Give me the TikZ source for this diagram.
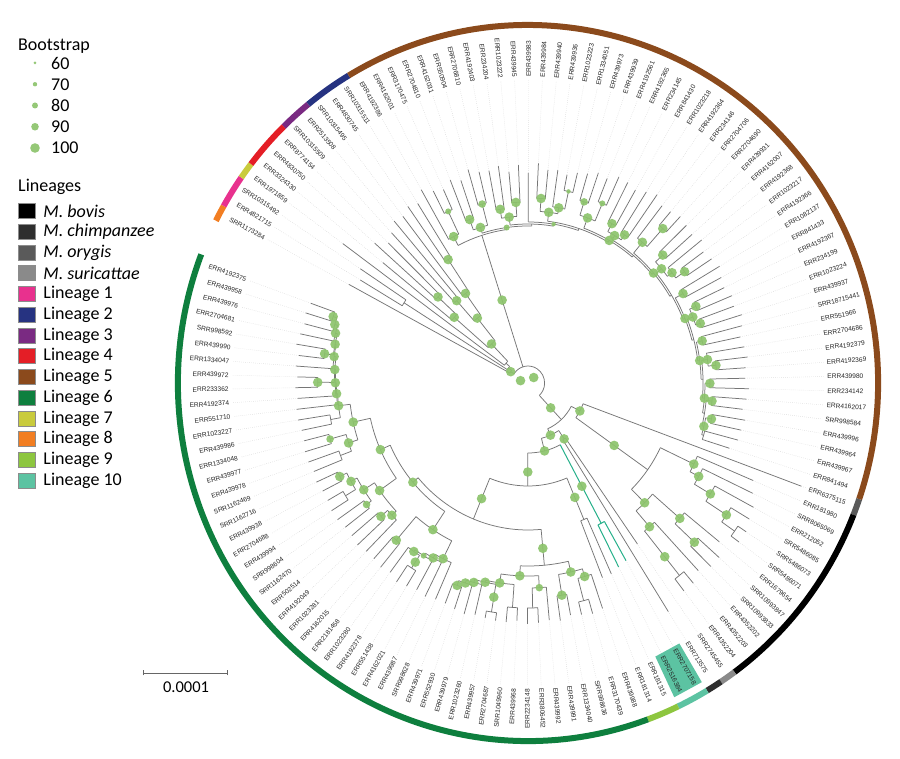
\documentclass[tikz,border=0pt]{standalone}
\usepackage{fontspec}
\setmainfont{Carlito}
\newfontfamily\labfont{Liberation Sans}
\pgfdeclarelayer{fg}
\pgfsetlayers{main,fg}
\definecolor{cL1}{RGB}{232,49,142}
\definecolor{cL2}{RGB}{38,51,129}
\definecolor{cL3}{RGB}{122,42,130}
\definecolor{cL4}{RGB}{228,30,38}
\definecolor{cL5}{RGB}{139,74,28}
\definecolor{cL6}{RGB}{14,127,62}
\definecolor{cL7}{RGB}{201,203,61}
\definecolor{cL8}{RGB}{242,126,34}
\definecolor{cL9}{RGB}{141,198,63}
\definecolor{cL10}{RGB}{92,195,162}
\definecolor{cChi}{RGB}{46,46,46}
\definecolor{cOry}{RGB}{90,90,90}
\definecolor{cSur}{RGB}{138,138,138}
\definecolor{bsg}{RGB}{141,196,108}
\definecolor{brc}{RGB}{118,118,118}
\definecolor{tlc}{RGB}{38,176,138}
\tikzset{
 br/.style={draw=brc, line width=0.75pt},
 tl/.style={draw=tlc, line width=1pt},
 lead/.style={draw=black!20, line width=0.4pt, dash pattern=on 0.5pt off 1.5pt},
 bsc/.style={fill=bsg, fill opacity=0.92},
 lab/.style={font=\labfont\fontsize{6.6}{7}\selectfont, inner sep=0pt, text=black!85},
 ring/.style={line width=6pt},
 leg/.style={font=\fontsize{18}{21}\selectfont, inner sep=0pt},
 sq/.style={draw=black!45, line width=0.5pt},
}
\newcommand\tBR[3]{\draw[br] ({A(#1)}:#2) -- ({A(#1)}:#3);}
\newcommand\tAR[3]{\pgfmathsetmacro\tsa{A(#2)}\pgfmathsetmacro\tea{A(#3)}\draw[br] (\tsa:#1) arc[start angle=\tsa, end angle=\tea, radius=#1];}
\newcommand\tND[5]{\tBR{#1}{#3}{#2}\tAR{#2}{#4}{#5}}
\newcommand\tLF[3]{\tBR{#1}{#2}{#3}\draw[lead] ({A(#1)}:#3) -- ({A(#1)}:303);}
\newcommand\tCH[7]{\tND{#1}{#2}{#3}{#4}{#5}\tLF{#4}{#2}{#6}\tLF{#5}{#2}{#7}}
\newcommand\tBS[3]{\begin{pgfonlayer}{fg}\fill[bsc] ({A(#1)}:#2) circle[radius=#3pt];\end{pgfonlayer}}
\newcommand\tRG[3]{\pgfmathsetmacro\tsa{A(#1-0.5)}\pgfmathsetmacro\tea{A(#2+0.5)}\draw[ring,draw=#3] (\tsa:358) arc[start angle=\tsa, end angle=\tea, radius=358];}
\def\bA{4.8}\def\bB{3.8}\def\bC{3.0}\def\bD{2.2}\def\bE{1.5}
\begin{document}
\begin{tikzpicture}[x=1pt,y=1pt,
 declare function={A(\i)=(\i<=91)*(151.7-(\i-1)*2.687)+(\i>91)*(-90.13-(\i-91)*2.61);}]
\fill[white] (-528,-376) rectangle (372,383);
\useasboundingbox (-528,-376) rectangle (372,383);

\begin{scope}[x=0.978pt]
% ---------- root ----------
\tAR{17}{2.6}{74.95}
\tBS{-3.2}{8}{\bA}\tBS{41.45}{8}{\bA}
% ---------- L1-4, L7, L8 ----------
\tND{2.6}{21}{17}{1}{4.2}\tBS{2.6}{21}{\bA}
\tLF{1}{21}{208}
\tND{4.2}{25}{21}{2.5}{5.85}
\tND{2.5}{150}{25}{2}{3}
\tLF{2}{150}{200}\tLF{3}{150}{206}
\tND{5.85}{30}{25}{4}{7.7}
\tLF{4}{30}{235}
\tND{7.7}{54}{30}{5.75}{9.6}\tBS{7.7}{54}{\bA}
\tND{5.75}{100}{54}{5}{6.5}\tBS{5.75}{100}{\bA}
\tLF{5}{100}{191}
\tCH{6.5}{126}{100}{6}{7}{210}{200}\tBS{6.5}{126}{\bA}
\tND{9.6}{83}{54}{8.5}{10.75}\tBS{9.6}{83}{\bA}
\tCH{8.5}{110}{83}{8}{9}{205}{212}\tBS{8.5}{110}{\bA}
\tND{10.75}{110}{83}{10}{11.5}\tBS{10.75}{110}{\bA}
\tLF{10}{110}{210}
\tCH{11.5}{148}{110}{11}{12}{215}{212}\tBS{11.5}{148}{\bA}
% ---------- L5 ----------
\tBR{17.37}{17}{155}\tBS{17.37}{87}{\bA}
\tAR{155}{13.75}{20.99}
\tND{20.99}{157}{155}{17.5}{24.48}\tBS{20.99}{157}{\bC}
\tND{24.48}{159}{157}{21.5}{27.45}
\tND{27.45}{161}{159}{24}{30.9}\tBS{27.45}{161}{\bD}
\tND{30.9}{163}{161}{26.6}{35.21}
\tND{35.21}{165}{163}{31.5}{38.93}\tBS{35.21}{165}{\bA}
\tND{38.93}{167}{165}{35.5}{42.35}
\tND{42.35}{169}{167}{38.75}{45.96}\tBS{42.35}{169}{\bA}
\tND{45.96}{171}{169}{42.6}{49.31}
\tND{49.31}{173}{171}{46.5}{52.125}\tBS{49.31}{173}{\bA}
\tND{52.125}{175}{173}{49.5}{54.75}
\tND{54.75}{177}{175}{52.5}{57}\tBS{54.75}{177}{\bA}
\tND{57}{179}{177}{54.75}{59.25}
\tND{59.25}{181}{179}{57.5}{61}\tBS{59.25}{181}{\bA}
\tND{61}{183}{181}{59.5}{62.5}
\tND{62.5}{185}{183}{61.5}{63.5}\tBS{62.5}{185}{\bA}
\tND{63.5}{187}{185}{63}{64}
\tND{13.75}{165}{155}{13}{14.5}\tBS{13.75}{165}{\bA}
\tLF{13}{165}{222}
\tCH{14.5}{190}{165}{14}{15}{215}{212}\tBS{14.5}{190}{\bC}
\tND{17.5}{163}{157}{16.5}{18.5}\tBS{17.5}{163}{\bA}
\tCH{16.5}{174}{163}{16}{17}{218}{214}\tBS{16.5}{174}{\bA}
\tCH{18.5}{185}{163}{18}{19}{222}{217}\tBS{18.5}{185}{\bB}
\tND{21.5}{167}{159}{20.5}{22.5}\tBS{21.5}{167}{\bA}
\tCH{20.5}{176}{167}{20}{21}{216}{219}\tBS{20.5}{176}{\bA}
\tCH{22.5}{181}{167}{22}{23}{212}{218}\tBS{22.5}{181}{\bA}
\tLF{24}{161}{210}
\tND{26.6}{172}{163}{25.5}{27.75}\tBS{26.6}{172}{\bA}
\tCH{25.5}{185}{172}{25}{26}{220}{214}\tBS{25.5}{185}{\bA}
\tND{27.75}{178}{172}{27}{28.5}\tBS{27.75}{178}{\bA}
\tLF{27}{178}{215}
\tCH{28.5}{196}{178}{28}{29}{212}{216}\tBS{28.5}{196}{\bD}
\tND{31.5}{176}{165}{30.5}{32.5}\tBS{31.5}{176}{\bA}
\tCH{30.5}{190}{176}{30}{31}{218}{222}\tBS{30.5}{190}{\bB}
\tCH{32.5}{195}{176}{32}{33}{220}{226}\tBS{32.5}{195}{\bC}
\tND{35.5}{172}{167}{34.5}{36.5}\tBS{35.5}{172}{\bA}
\tCH{34.5}{181}{172}{34}{35}{225}{222}\tBS{34.5}{181}{\bA}
\tCH{36.5}{178}{172}{36}{37}{226}{230}\tBS{36.5}{178}{\bA}
\tND{38.75}{183}{169}{38}{39.5}\tBS{38.75}{183}{\bA}
\tLF{38}{183}{224}
\tCH{39.5}{207}{183}{39}{40}{225}{228}\tBS{39.5}{207}{\bA}
\tND{42.6}{178}{171}{41.5}{43.75}\tBS{42.6}{178}{\bA}
\tCH{41.5}{188}{178}{41}{42}{226}{224}\tBS{41.5}{188}{\bA}
\tND{43.75}{184}{178}{43}{44.5}\tBS{43.75}{184}{\bA}
\tLF{43}{184}{228}
\tCH{44.5}{195}{184}{44}{45}{222}{225}\tBS{44.5}{195}{\bA}
\tCH{46.5}{182}{173}{46}{47}{228}{224}\tBS{46.5}{182}{\bA}
\tND{49.5}{181}{175}{48.5}{50.5}\tBS{49.5}{181}{\bA}
\tCH{48.5}{188}{181}{48}{49}{222}{226}\tBS{48.5}{188}{\bA}
\tCH{50.5}{186}{181}{50}{51}{224}{229}\tBS{50.5}{186}{\bA}
\tCH{52.5}{183}{177}{52}{53}{226}{222}\tBS{52.5}{183}{\bA}
\tND{54.75}{185}{179}{54}{55.5}\tBS{54.75}{185}{\bA}
\tLF{54}{185}{224}
\tCH{55.5}{193}{185}{55}{56}{226}{223}\tBS{55.5}{193}{\bA}
\tCH{57.5}{186}{181}{57}{58}{222}{226}\tBS{57.5}{186}{\bA}
\tCH{59.5}{189}{183}{59}{60}{224}{221}\tBS{59.5}{189}{\bA}
\tCH{61.5}{191}{185}{61}{62}{225}{223}\tBS{61.5}{191}{\bA}
\tLF{63}{187}{222}
\tLF{64}{187}{216}
% ---------- animal, L9, L10, L6 ----------
\tBR{74.95}{17}{50}\tBS{74.95}{34}{\bA}
\tAR{50}{67.8}{82.1}
\tND{67.8}{60}{50}{65}{70.6}\tBS{67.8}{60}{\bA}
\tLF{65}{60}{298}
\tND{70.6}{150}{60}{66.97}{74.25}\tBS{70.6}{108}{\bA}
\tND{66.97}{188}{150}{66}{67.94}\tBS{66.97}{188}{\bA}
\tLF{66}{188}{250}
\tND{67.94}{198}{188}{67}{68.9}\tBS{67.94}{198}{\bA}
\tLF{67}{198}{255}
\tND{68.9}{217}{198}{68}{69.75}\tBS{68.9}{217}{\bA}
\tLF{68}{217}{262}
\tND{69.75}{242}{217}{69}{70.5}\tBS{69.75}{242}{\bA}
\tLF{69}{242}{264}
\tCH{70.5}{258}{242}{70}{71}{268}{268}
\tND{74.25}{169}{150}{72.75}{75.75}\tBS{74.25}{169}{\bA}
\tND{72.75}{206}{169}{72}{73.5}\tBS{72.75}{206}{\bA}
\tLF{72}{206}{252}
\tCH{73.5}{233}{206}{73}{74}{262}{262}\tBS{73.5}{233}{\bA}
\tND{75.75}{190}{169}{75}{76.5}\tBS{75.75}{190}{\bA}
\tLF{75}{190}{256}
\tCH{76.5}{247}{190}{76}{77}{262}{262}\tBS{76.5}{223}{\bA}
\tND{82.1}{57}{50}{78.5}{85.75}\tBS{82.1}{57}{\bA}
\tND{78.5}{67}{57}{78}{79}\tBS{78.5}{67}{\bA}
\tLF{78}{67}{196}\tLF{79}{67}{270}
\tND{85.75}{70}{57}{80.5}{91.0}\tBS{85.75}{70}{\bA}
% L10 (teal)
\draw[tl] ({A(80.5)}:70) -- ({A(80.5)}:159);
\pgfmathsetmacro\tsa{A(80)}\pgfmathsetmacro\tea{A(81)}
\draw[tl] (\tsa:159) arc[start angle=\tsa, end angle=\tea, radius=159];
\draw[tl] ({A(80)}:159) -- ({A(80)}:204);
\draw[tl] ({A(81)}:159) -- ({A(81)}:206);
\draw[lead] ({A(80)}:204) -- ({A(80)}:303);
\draw[lead] ({A(81)}:206) -- ({A(81)}:303);
\tBS{80.5}{117}{\bA}
% L9 + L6
\tND{91.0}{103}{70}{82.5}{99.5}\tBS{91.0}{89}{\bA}
\tCH{82.5}{148}{103}{82}{83}{209}{209}\tBS{82.5}{124}{\bA}
\tND{99.5}{147}{103}{89.0}{110.05}\tBS{99.5}{125}{\bA}
\tND{89.0}{183}{147}{86.1}{91.9}\tBS{89.0}{166}{\bA}
\tND{86.1}{194}{183}{84.75}{87.5}\tBS{86.1}{194}{\bA}
\tND{84.75}{202}{194}{84}{85.5}\tBS{84.75}{202}{\bA}
\tLF{84}{202}{238}
\tCH{85.5}{225}{202}{85}{86}{240}{238}
\tCH{87.5}{215}{194}{87}{88}{236}{240}\tBS{87.5}{215}{\bA}
\tND{91.9}{193}{183}{89.75}{94.1}\tBS{91.9}{193}{\bA}
\tND{89.75}{205}{193}{89}{90.5}\tBS{89.75}{205}{\bB}
\tLF{89}{205}{238}
\tCH{90.5}{225}{205}{90}{91}{240}{241}
\tND{94.1}{202}{193}{92.5}{95.7}\tBS{94.1}{202}{\bA}
\tCH{92.5}{225}{202}{92}{93}{238}{240}
\tND{95.7}{204}{202}{94.5}{96.9}\tBS{95.7}{204}{\bA}
\tCH{94.5}{232}{204}{94}{95}{240}{239}\tBS{94.5}{217}{\bA}
\tND{96.9}{207}{204}{96}{97.75}\tBS{96.9}{207}{\bA}
\tLF{96}{207}{238}
\tND{97.75}{210}{207}{97}{98.5}\tBS{97.75}{210}{\bA}
\tLF{97}{210}{240}
\tCH{98.5}{215}{210}{98}{99}{238}{236}\tBS{98.5}{215}{\bA}
\tND{110.05}{154}{147}{103.8}{116.3}\tBS{110.05}{154}{\bA}
\tND{103.8}{176}{154}{101.03}{106.5}\tBS{103.8}{176}{\bA}
\tND{101.03}{196}{176}{100}{102.06}\tBS{101.03}{196}{\bA}
\tLF{100}{196}{236}
\tND{102.06}{200}{196}{101}{103.1}\tBS{102.06}{200}{\bA}
\tLF{101}{200}{238}
\tND{103.1}{203}{200}{102}{104.25}\tBS{103.1}{203}{\bC}
\tLF{102}{203}{236}
\tND{104.25}{205}{203}{103.5}{105}\tBS{104.25}{205}{\bA}
\tCH{103.5}{220}{205}{103}{104}{238}{240}\tBS{103.5}{213}{\bA}
\tLF{105}{205}{236}
\tCH{106.5}{207}{176}{106}{107}{238}{236}\tBS{106.5}{207}{\bA}
\tND{116.3}{165}{154}{111.9}{120.7}\tBS{116.3}{165}{\bA}
\tND{111.9}{186}{165}{108.75}{113}\tBS{111.9}{186}{\bA}
\tND{108.75}{192}{186}{108}{109.5}\tBS{108.75}{192}{\bA}
\tLF{108}{192}{236}
\tCH{109.5}{201}{192}{109}{110}{238}{236}\tBS{109.5}{201}{\bA}
\tND{113}{199}{186}{111.5}{114.5}\tBS{113}{199}{\bA}
\tCH{111.5}{205}{199}{111}{112}{236}{238}\tBS{111.5}{205}{\bB}
\tND{114.5}{206}{199}{113.5}{115.5}\tBS{114.5}{206}{\bA}
\tCH{113.5}{218}{206}{113}{114}{238}{236}
\tCH{115.5}{214}{206}{115}{116}{236}{238}\tBS{115.5}{214}{\bA}
\tND{120.7}{183}{165}{118.5}{122.87}\tBS{120.7}{183}{\bA}
\tND{118.5}{193}{183}{117.5}{119.5}\tBS{118.5}{193}{\bA}
\tCH{117.5}{205}{193}{117}{118}{236}{238}
\tCH{119.5}{210}{193}{119}{120}{238}{236}\tBS{119.5}{210}{\bB}
\tND{122.87}{195}{183}{121.5}{124.23}\tBS{122.87}{195}{\bA}
\tCH{121.5}{205}{195}{121}{122}{236}{238}
\tND{124.23}{196}{195}{123}{125.46}\tBS{124.23}{196}{\bA}
\tLF{123}{196}{238}
\tND{125.46}{197}{196}{124}{126.92}\tBS{125.46}{197}{\bA}
\tLF{124}{197}{236}
\tND{126.92}{198}{197}{125.5}{128.34}\tBS{126.92}{198}{\bA}
\tCH{125.5}{215}{198}{125}{126}{238}{236}\tBS{125.5}{215}{\bA}
\tND{128.34}{200}{198}{127}{129.69}\tBS{128.34}{200}{\bA}
\tLF{127}{200}{238}
\tND{129.69}{201}{200}{128.5}{130.875}\tBS{129.69}{201}{\bA}
\tCH{128.5}{210}{201}{128}{129}{236}{240}\tBS{128.5}{210}{\bA}
\tND{130.875}{203}{201}{130}{131.75}\tBS{130.875}{203}{\bA}
\tLF{130}{203}{238}
\tND{131.75}{206}{203}{131}{132.5}\tBS{131.75}{206}{\bA}
\tLF{131}{206}{236}
\tCH{132.5}{210}{206}{132}{133}{238}{236}\tBS{132.5}{210}{\bA}

% ---------- coloured ring ----------
\tRG{1}{1}{cL8}\tRG{2}{3}{cL1}\tRG{4}{4}{cL7}\tRG{5}{7}{cL4}\tRG{8}{9}{cL3}
\tRG{10}{12}{cL2}\tRG{13}{64}{cL5}\tRG{65}{65}{cOry}\tRG{66}{77}{black}
\tRG{78}{78}{cSur}\tRG{79}{79}{cChi}\tRG{80}{81}{cL10}\tRG{82}{83}{cL9}\tRG{84}{133}{cL6}

% ---------- highlight ----------
\fill[cL10] ({A(79.52)}:303) -- ({A(79.52)}:348) -- ({A(81.48)}:348) -- ({A(81.48)}:303) -- cycle;

% ---------- leaf labels ----------
\foreach \i/\lb in {1/SRR1173284,2/ERR4821715,3/SRR10315492,4/ERR1971859,5/ERR3324330,6/ERR4830750,7/ERR8774154,8/SRR10315509,9/ERR2513508,10/SRR10315495,11/ERR4830745,12/SRR10315511,13/ERR4192386,14/ERR4162001,15/ERR3170475,16/ERR2704810,17/ERR4162031,18/ERR550904,19/ERR2706810,20/ERR4192403,21/ERR234204,22/ERR1023222,23/ERR439945,24/ERR439983,25/ERR439984,26/ERR439940,27/ERR439936,28/ERR1023223,29/ERR1334051,30/ERR439973,31/ERR439939,32/ERR4192561,33/ERR4192365,34/ERR234145,35/ERR841430,36/ERR1023218,37/ERR4192364,38/ERR234146,39/ERR2704706,40/ERR2704690,41/ERR439931,42/ERR4162007,43/ERR4192368,44/ERR1023217,45/ERR4192366,46/ERR1082137,47/ERR841433,48/ERR4192367,49/ERR234199,50/ERR1023224,51/ERR439937,52/SRR18715441,53/ERR551966,54/ERR2704686,55/ERR4192379,56/ERR4192369,57/ERR439980,58/ERR234142,59/ERR4162017,60/SRR998584,61/ERR439996,62/ERR439964,63/ERR439967,64/ERR841494,65/ERR6375115,66/ERR181980,67/SRR8065069,68/ERR212052,69/SRR5486085,70/SRR5486073,71/SRR5486071,72/ERR1679654,73/SRR10993847,74/SRR10993833,75/ERR4352202,76/ERR4352203,77/ERR4352204,78/SRR2745455,79/ERR713575,80/ERR2707158,81/ERR2516384,82/ERR181315,83/ERR181314,84/ERR439988,85/ERR3170439,86/SRR998636,87/ERR1334040,88/ERR439991,89/ERR439992,90/ERR3806452,91/ERR2234148,92/ERR439968,93/SRR1049960,94/ERR2704687,95/ERR439957,96/ERR1023260,97/ERR439979,98/ERR552930,99/ERR439971,100/SRR998628,101/ERR439987,102/ERR4162021,103/ERR551438,104/ERR4192378,105/ERR1023280,106/ERR2181458,107/ERR4162015,108/ERR1023281,109/ERR4192049,110/ERR502514,111/SRR1162470,112/SRR998604,113/ERR439994,114/ERR2704688,115/ERR439938,116/SRR1162716,117/SRR1162469,118/ERR439978,119/ERR439977,120/ERR1334048,121/ERR439986,122/ERR1023227,123/ERR551710,124/ERR4192374,125/ERR233362,126/ERR439972,127/ERR1334047,128/ERR439990,129/SRR998592,130/ERR2704681,131/ERR439976,132/ERR439958,133/ERR4192375}{
  \pgfmathsetmacro\la{A(\i)}
  \pgfmathtruncatemacro\lft{(\la>90 || \la<-90) ? 1 : 0}
  \ifnum\lft=1
    \node[lab,anchor=east,rotate=\la+180] (leaf\i) at (\la:306) {\lb};
  \else
    \node[lab,anchor=west,rotate=\la] (leaf\i) at (\la:306) {\lb};
  \fi
}
\end{scope}

% ---------- legend ----------
\node[leg,anchor=base west] (bt) at (-510,332) {Bootstrap};
\foreach \k/\v/\rr in {0/60/1.5,1/70/2.2,2/80/3.0,3/90/3.8,4/100/4.8}{
  \pgfmathsetmacro\yy{320-21.25*\k}
  \fill[bsc] (-493,\yy) circle[radius=\rr pt];
  \node[leg,anchor=west] (bv\k) at (-477,\yy) {\v};
}
\node[leg,anchor=base west] (lt) at (-510,191) {Lineages};
\foreach \k/\cc/\nm in {0/black/{\textit{M. bovis}},1/cChi/{\textit{M. chimpanzee}},2/cOry/{\textit{M. orygis}},3/cSur/{\textit{M. suricattae}},4/cL1/{Lineage 1},5/cL2/{Lineage 2},6/cL3/{Lineage 3},7/cL4/{Lineage 4},8/cL5/{Lineage 5},9/cL6/{Lineage 6},10/cL7/{Lineage 7},11/cL8/{Lineage 8},12/cL9/{Lineage 9},13/cL10/{Lineage 10}}{
  \pgfmathsetmacro\yy{172-20.75*\k}
  \fill[\cc] (-510,\yy-7.5) rectangle (-492.3,\yy+7.5);
  \draw[sq] (-510,\yy-7.5) rectangle (-492.3,\yy+7.5);
  \node[leg,anchor=west] (lg\k) at (-484.7,\yy) {\nm};
}
% ---------- scale bar ----------
\coordinate (sb1) at (-385,-290);
\coordinate (sb2) at (-301,-290);
\draw[black!60,line width=0.8pt] (sb1) -- (sb2);
\draw[black!60,line width=0.8pt] ([yshift=-2.5pt]sb1) -- ([yshift=2.5pt]sb1);
\draw[black!60,line width=0.8pt] ([yshift=-2.5pt]sb2) -- ([yshift=2.5pt]sb2);
\node[leg,font=\fontsize{16.5}{19}\selectfont] (sbt) at (-342,-304) {0.0001};
\end{tikzpicture}
\end{document}
